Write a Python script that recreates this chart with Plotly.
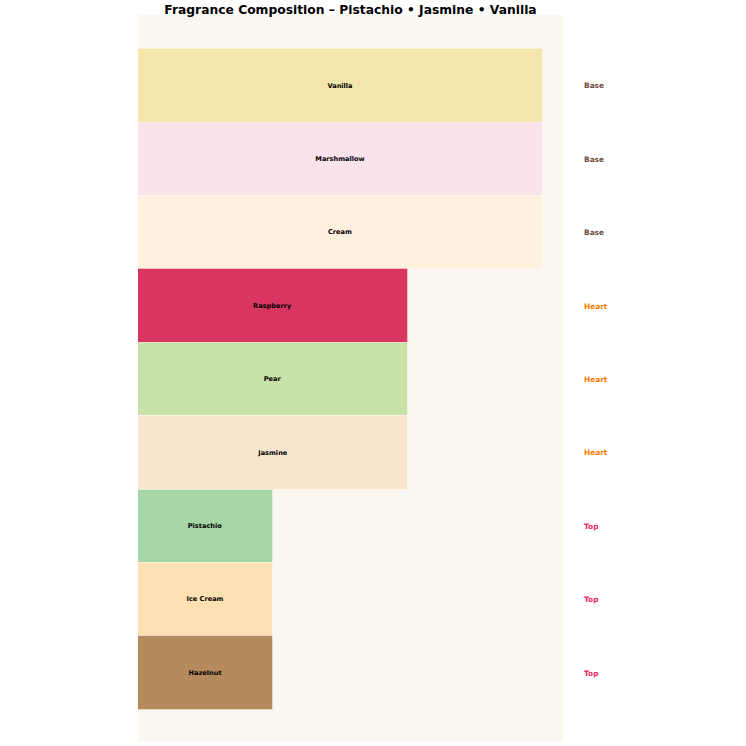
import plotly.graph_objects as go

notes = ["Vanilla", "Marshmallow", "Cream", "Raspberry", "Pear", "Jasmine",
         "Pistachio", "Ice Cream", "Hazelnut"]
tiers = ["Base", "Base", "Base", "Heart", "Heart", "Heart", "Top", "Top", "Top"]
values = [3, 3, 3, 2, 2, 2, 1, 1, 1]
colors = ["#F3E5AB", "#FAE3EA", "#FFF1DE", "#D83660", "#C8E1A8", "#F7E5CD",
          "#A6D6A6", "#FFE0B2", "#B58B5E"]
tier_colors = {"Base": "#6D4C41", "Heart": "#F57C00", "Top": "#E91E63"}

fig = go.Figure()
fig.add_trace(go.Bar(
    x=values, y=notes, orientation="h",
    marker=dict(color=colors, line=dict(color="rgba(255,255,255,0.35)", width=1)),
    text=[f"<b>{n}</b>" for n in notes],
    textposition="inside", insidetextanchor="middle",
    textfont=dict(size=6.6, color="black", family="DejaVu Sans"),
    hoverinfo="skip", width=1,
))

for n, t in zip(notes, tiers):
    fig.add_annotation(x=1.0447, xref="paper", y=n, yref="y", xanchor="left",
                       text=f"<b>{t}</b>", showarrow=False,
                       font=dict(size=7.4, color=tier_colors[t], family="DejaVu Sans"))

fig.update_layout(
    width=746, height=746,
    margin=dict(l=138, r=183, t=15, b=4),
    paper_bgcolor="white", plot_bgcolor="#FAF6F0",
    bargap=0, showlegend=False,
    title=dict(text="<b>Fragrance Composition – Pistachio • Jasmine • Vanilla</b>",
               x=0.5, xref="paper", xanchor="center", y=1 - 9.5 / 746, yref="container",
               yanchor="middle", font=dict(size=12.3, color="black", family="DejaVu Sans")),
    font=dict(family="DejaVu Sans"),
    uniformtext=dict(minsize=6, mode="show"),
)
fig.update_xaxes(range=[0, 3.145], showticklabels=False, showgrid=False, zeroline=False)
fig.update_yaxes(categoryorder="array", categoryarray=notes, range=[8.94, -0.965],
                 showticklabels=False, showgrid=False, zeroline=False)

fig.write_html("out.html", config={"displayModeBar": False},
               post_script="document.body.style.margin='0';")
